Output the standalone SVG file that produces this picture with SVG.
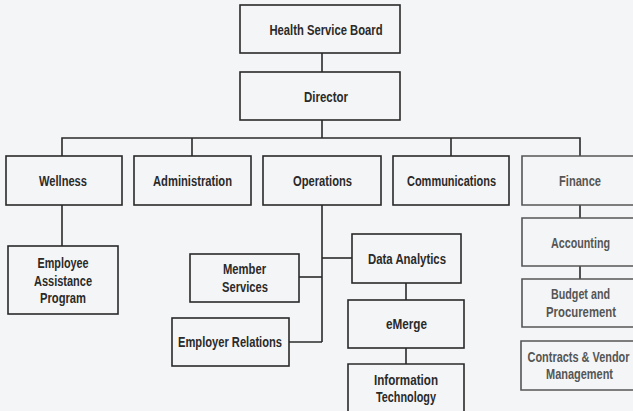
<svg xmlns="http://www.w3.org/2000/svg" width="633" height="411" viewBox="0 0 633 411">
<style>
.bx{fill:none;stroke:#2a2a2a;stroke-width:1.6}
.bx.dim{stroke:#555}
.t{font-family:"Liberation Sans",Arial,sans-serif;font-weight:bold;font-size:14.5px;fill:#2a2a2a;text-anchor:middle}
.t.dim{fill:#555}
.ln{fill:none;stroke:#2a2a2a;stroke-width:1.6}
</style>
<rect width="633" height="411" fill="#f4f5f6"/>
<g id="connectors" class="ln">
<line x1="322" y1="53" x2="322" y2="72"/>
<line x1="322" y1="120" x2="322" y2="138"/>
<polyline points="62,156 62,138 580,138 580,156"/>
<line x1="192" y1="138" x2="192" y2="156"/>
<line x1="451" y1="138" x2="451" y2="156"/>
<line x1="62" y1="205" x2="62" y2="246"/>
<line x1="322" y1="205" x2="322" y2="342"/>
<line x1="322" y1="258" x2="352" y2="258"/>
<line x1="299" y1="277" x2="322" y2="277"/>
<line x1="289" y1="342" x2="322" y2="342"/>
<line x1="406" y1="283" x2="406" y2="300"/>
<line x1="406" y1="348" x2="406" y2="364"/>
<line x1="580" y1="205" x2="580" y2="218"/>
<line x1="580" y1="266" x2="580" y2="279"/>
</g>
<g id="board"><rect class="bx" x="240" y="5" width="160" height="48"/><text class="t" x="326" y="35" textLength="113" lengthAdjust="spacingAndGlyphs">Health Service Board</text></g>
<g id="director"><rect class="bx" x="240" y="72" width="160" height="48"/><text class="t" x="326" y="102" textLength="44" lengthAdjust="spacingAndGlyphs">Director</text></g>
<g id="wellness"><rect class="bx" x="6" y="156" width="116" height="49"/><text class="t" x="63" y="186" textLength="48" lengthAdjust="spacingAndGlyphs">Wellness</text></g>
<g id="administration"><rect class="bx" x="134" y="156" width="117" height="49"/><text class="t" x="192.5" y="186" textLength="79" lengthAdjust="spacingAndGlyphs">Administration</text></g>
<g id="operations"><rect class="bx" x="263" y="156" width="118" height="49"/><text class="t" x="322.5" y="186" textLength="59" lengthAdjust="spacingAndGlyphs">Operations</text></g>
<g id="communications"><rect class="bx" x="393" y="156" width="116" height="49"/><text class="t" x="451.5" y="186" textLength="89" lengthAdjust="spacingAndGlyphs">Communications</text></g>
<g id="finance"><path class="bx dim" d="M633,156 H522 V205 H633"/><text class="t dim" x="580" y="186" textLength="42" lengthAdjust="spacingAndGlyphs">Finance</text></g>
<g id="eap"><rect class="bx" x="8" y="246" width="110" height="68"/><text class="t" x="63" y="268" textLength="51" lengthAdjust="spacingAndGlyphs">Employee</text><text class="t" x="63" y="286" textLength="58" lengthAdjust="spacingAndGlyphs">Assistance</text><text class="t" x="63" y="303" textLength="46" lengthAdjust="spacingAndGlyphs">Program</text></g>
<g id="member-services"><rect class="bx" x="190" y="254" width="109" height="48"/><text class="t" x="244.5" y="274" textLength="43" lengthAdjust="spacingAndGlyphs">Member</text><text class="t" x="245" y="292" textLength="46" lengthAdjust="spacingAndGlyphs">Services</text></g>
<g id="employer-relations"><rect class="bx" x="172" y="318" width="117" height="48"/><text class="t" x="230" y="347" textLength="104" lengthAdjust="spacingAndGlyphs">Employer Relations</text></g>
<g id="data-analytics"><rect class="bx" x="352" y="234" width="109" height="49"/><text class="t" x="407" y="264" textLength="78" lengthAdjust="spacingAndGlyphs">Data Analytics</text></g>
<g id="emerge"><rect class="bx" x="348" y="300" width="116" height="48"/><text class="t" x="406.5" y="329" textLength="41" lengthAdjust="spacingAndGlyphs">eMerge</text></g>
<g id="it"><path class="bx" d="M348,411 V364 H464 V411"/><text class="t" x="406" y="385" textLength="64" lengthAdjust="spacingAndGlyphs">Information</text><text class="t" x="406" y="402" textLength="60" lengthAdjust="spacingAndGlyphs">Technology</text></g>
<g id="accounting"><path class="bx dim" d="M633,218 H522 V266 H633"/><text class="t dim" x="580.5" y="248" textLength="59" lengthAdjust="spacingAndGlyphs">Accounting</text></g>
<g id="budget"><path class="bx dim" d="M633,279 H522 V327 H633"/><text class="t dim" x="580.5" y="299" textLength="59" lengthAdjust="spacingAndGlyphs">Budget and</text><text class="t dim" x="581" y="317" textLength="70" lengthAdjust="spacingAndGlyphs">Procurement</text></g>
<g id="contracts"><path class="bx dim" d="M633,341 H521 V390 H633"/><text class="t dim" x="578.5" y="362" textLength="102" lengthAdjust="spacingAndGlyphs">Contracts &amp; Vendor</text><text class="t dim" x="579.5" y="379" textLength="67" lengthAdjust="spacingAndGlyphs">Management</text></g>
</svg>
